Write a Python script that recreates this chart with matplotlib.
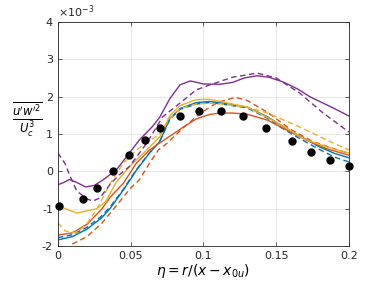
import matplotlib
matplotlib.use('Agg')
import matplotlib.pyplot as plt
import numpy as np

# experimental points (values in units of 1e-3)
exp_eta = [0.001, 0.017, 0.027, 0.038, 0.049, 0.060, 0.070, 0.084, 0.097, 0.112,
           0.127, 0.143, 0.161, 0.174, 0.187, 0.200]
exp_val = [-0.93, -0.74, -0.45, 0.0, 0.44, 0.84, 1.16, 1.48, 1.61, 1.61,
           1.48, 1.16, 0.81, 0.52, 0.30, 0.14]

blue_eta = [0, 0.01, 0.02, 0.03, 0.036, 0.045, 0.054, 0.063, 0.07, 0.077, 0.084, 0.095,
            0.104, 0.113, 0.13, 0.144, 0.153, 0.166, 0.18, 0.19, 0.2]
blue_solid = [-1.84, -1.75, -1.55, -1.25, -0.99, -0.5, 0.03, 0.49, 0.80, 1.42, 1.68, 1.84,
              1.87, 1.83, 1.72, 1.46, 1.24, 0.95, 0.65, 0.48, 0.36]
blue_dash = [-1.78, -1.70, -1.50, -1.20, -0.95, -0.48, 0.05, 0.50, 0.80, 1.40, 1.66, 1.80,
             1.84, 1.80, 1.70, 1.42, 1.18, 0.88, 0.58, 0.38, 0.25]

orange_eta = [0, 0.01, 0.02, 0.03, 0.036, 0.045, 0.054, 0.063, 0.07, 0.077, 0.086, 0.095,
              0.104, 0.111, 0.12, 0.13, 0.144, 0.153, 0.17, 0.185, 0.2]
orange_solid = [-1.71, -1.65, -1.42, -1.02, -0.69, -0.32, 0.22, 0.57, 0.76, 0.94, 1.18, 1.40,
                1.52, 1.56, 1.56, 1.53, 1.37, 1.19, 0.85, 0.60, 0.43]
orange_dash_eta = [0, 0.005, 0.01, 0.02, 0.03, 0.04, 0.05, 0.056, 0.063, 0.069, 0.075, 0.086,
                   0.098, 0.11, 0.122, 0.13, 0.144, 0.16, 0.175, 0.19, 0.2]
orange_dash = [-2.25, -2.1, -1.95, -1.75, -1.40, -0.93, -0.45, -0.23, 0.22, 0.57, 0.75, 1.16,
               1.56, 1.85, 1.98, 1.90, 1.58, 1.12, 0.80, 0.60, 0.48]

yellow_eta = [0, 0.005, 0.013, 0.02, 0.027, 0.033, 0.04, 0.049, 0.061, 0.07, 0.077, 0.084,
              0.095, 0.104, 0.113, 0.13, 0.144, 0.153, 0.17, 0.185, 0.2]
yellow_solid = [-0.93, -1.0, -1.12, -1.06, -1.0, -0.8, -0.3, 0.12, 0.57, 0.92, 1.50, 1.76,
                1.92, 1.93, 1.86, 1.72, 1.44, 1.25, 0.85, 0.65, 0.49]
yellow_dash_eta = [0, 0.005, 0.013, 0.02, 0.027, 0.031, 0.036, 0.045, 0.054, 0.061, 0.07, 0.077,
                   0.084, 0.095, 0.104, 0.113, 0.13, 0.144, 0.166, 0.189, 0.2]
yellow_dash = [-1.38, -1.60, -1.65, -1.40, -1.0, -0.70, -0.32, 0.22, 0.57, 0.76, 1.0, 1.42,
               1.68, 1.80, 1.82, 1.80, 1.72, 1.56, 1.19, 0.76, 0.57]

purple_eta = [0, 0.004, 0.008, 0.013, 0.019, 0.025, 0.031, 0.04, 0.047, 0.056, 0.065, 0.07,
              0.077, 0.084, 0.091, 0.1, 0.111, 0.12, 0.128, 0.137, 0.145, 0.155, 0.165,
              0.173, 0.189, 0.2]
purple_solid = [-0.36, -0.30, -0.22, -0.30, -0.42, -0.38, -0.23, 0.03, 0.38, 0.84, 1.20, 1.45,
                1.95, 2.32, 2.42, 2.34, 2.33, 2.38, 2.50, 2.56, 2.52, 2.39, 2.20,
                2.0, 1.70, 1.48]
purple_dash_eta = [0, 0.005, 0.008, 0.013, 0.02, 0.024, 0.029, 0.036, 0.042, 0.049, 0.061,
                   0.072, 0.084, 0.095, 0.104, 0.12, 0.137, 0.15, 0.166, 0.182, 0.2]
purple_dash = [0.49, 0.20, -0.10, -0.53, -0.74, -0.80, -0.71, -0.34, -0.10, 0.12, 0.75,
               1.46, 1.83, 2.18, 2.31, 2.52, 2.63, 2.50, 2.10, 1.57, 1.05]

BLUE = (0, 0.447, 0.741)
ORANGE = (0.85, 0.325, 0.098)
YELLOW = (0.929, 0.694, 0.125)
PURPLE = (0.494, 0.184, 0.556)
AXC = (0.15, 0.15, 0.15)

fig = plt.figure(figsize=(3.76, 2.82), dpi=100)
ax = fig.add_axes([0.154, 0.128, 0.774, 0.794])

lw = 1.0
ax.plot(blue_eta, blue_solid, '-', color=BLUE, lw=lw)
ax.plot(blue_eta, blue_dash, '--', color=BLUE, lw=lw, dashes=(4, 2.5))
ax.plot(orange_eta, orange_solid, '-', color=ORANGE, lw=lw)
ax.plot(orange_dash_eta, orange_dash, '--', color=ORANGE, lw=lw, dashes=(4, 2.5))
ax.plot(yellow_eta, yellow_solid, '-', color=YELLOW, lw=lw)
ax.plot(yellow_dash_eta, yellow_dash, '--', color=YELLOW, lw=lw, dashes=(4, 2.5))
ax.plot(purple_eta, purple_solid, '-', color=PURPLE, lw=lw)
ax.plot(purple_dash_eta, purple_dash, '--', color=PURPLE, lw=lw, dashes=(4, 2.5))
ax.plot(exp_eta, exp_val, 'o', color='k', ms=5, clip_on=False, zorder=5)

ax.set_xlim(0, 0.2)
ax.set_ylim(-2, 4)
ax.set_xticks([0, 0.05, 0.1, 0.15, 0.2])
ax.set_xticklabels(['0', '0.05', '0.1', '0.15', '0.2'])
ax.set_yticks([-2, -1, 0, 1, 2, 3, 4])
ax.set_yticklabels(['-2', '-1', '0', '1', '2', '3', '4'])
ax.grid(True, color=AXC, alpha=0.12, lw=0.6)
ax.tick_params(direction='in', labelsize=8, length=3, width=0.5,
               colors=AXC, top=True, right=True)
for s in ax.spines.values():
    s.set_color(AXC)
    s.set_linewidth(0.6)

ax.text(0.0, 1.01, r'$\times10^{-3}$', transform=ax.transAxes, fontsize=8,
        color=AXC, va='bottom', ha='left')
ax.set_xlabel(r'$\eta = r/(x - x_{0u})$', fontsize=10, labelpad=1)
fig.text(0.072, 0.575, r'$\frac{\overline{u^{\prime}w^{\prime 2}}}{U_c^3}$', fontsize=12,
         ha='center', va='center')

plt.savefig('out.png', dpi=100)
